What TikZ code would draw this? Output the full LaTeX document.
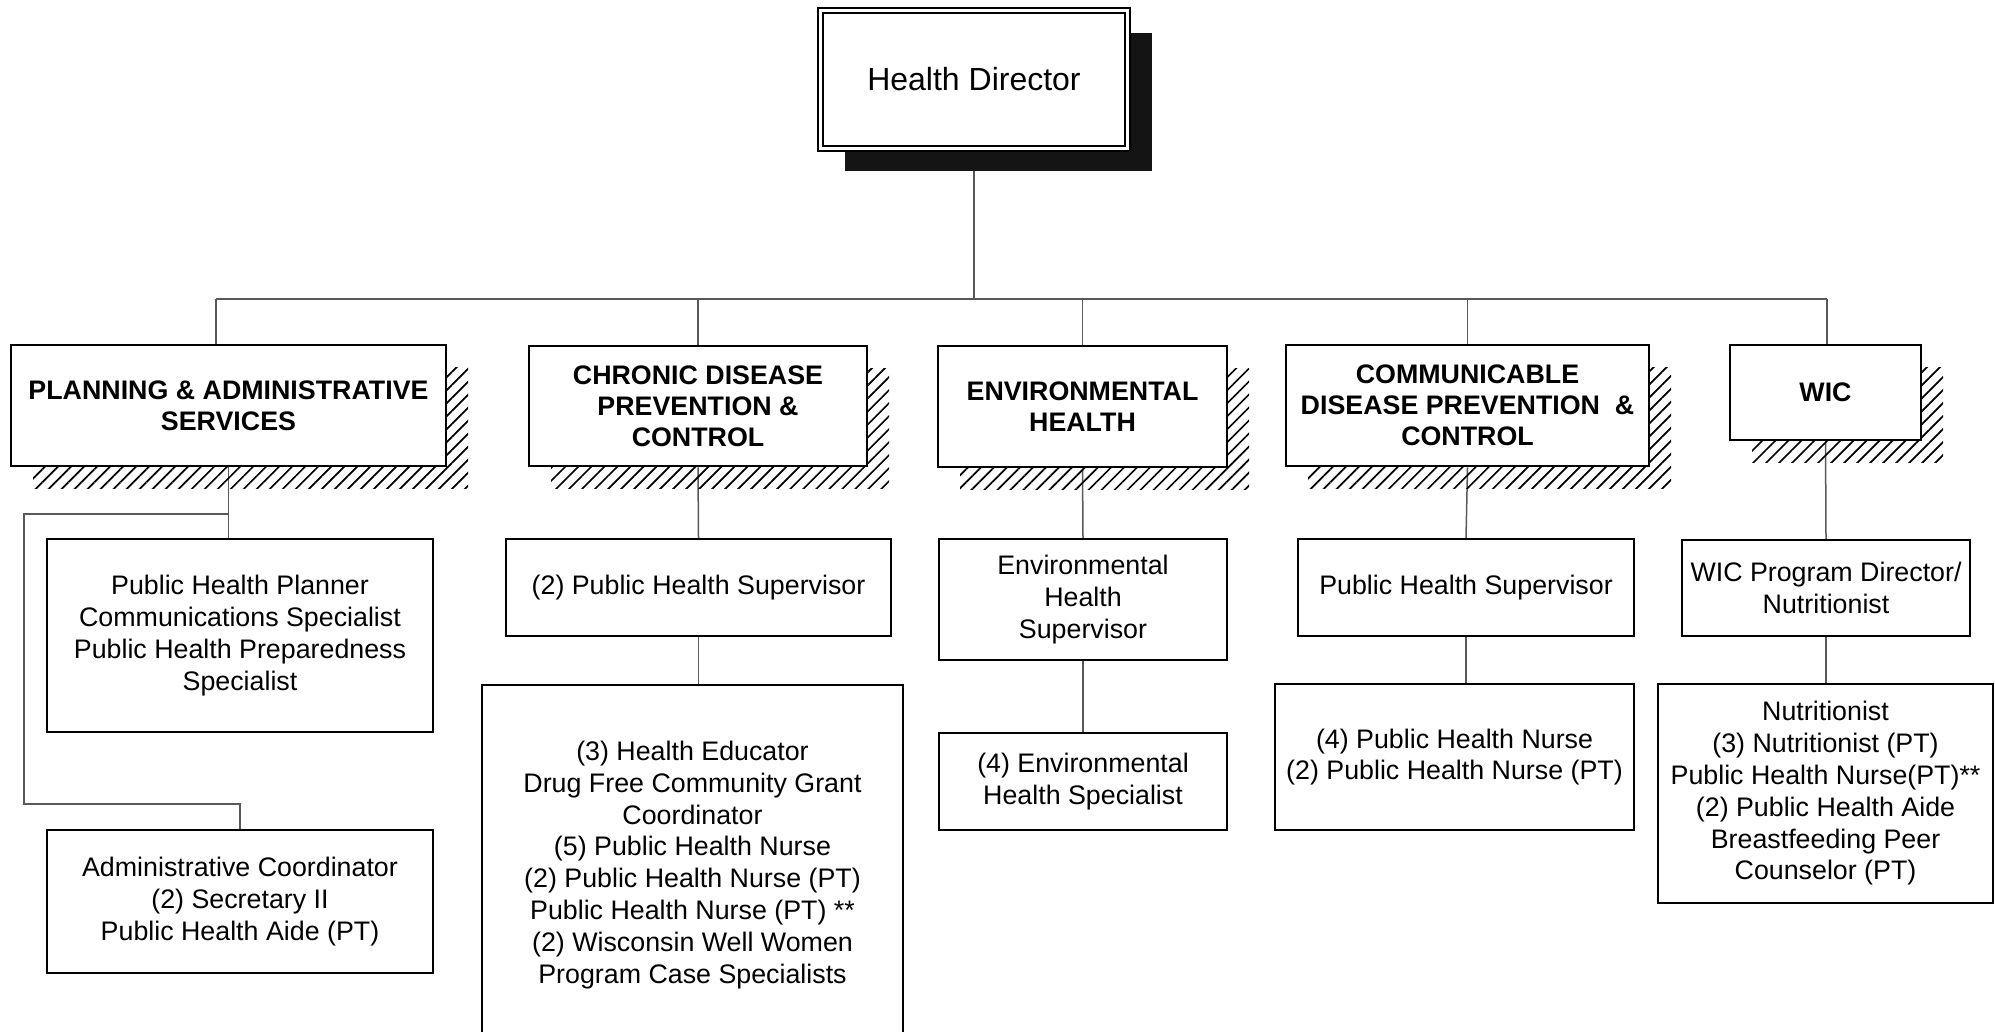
\documentclass[tikz,border=0pt]{standalone}
\usepackage{fontspec}
\setmainfont{Liberation Sans}
\usetikzlibrary{positioning, shadows, backgrounds, patterns.meta}
\tikzset{
    dirbox/.style={draw, double, double distance=1.6pt, line width=0.9pt, fill=white, font=\fontsize{16}{19}\selectfont, inner sep=0pt, drop shadow={shadow xshift=12pt, shadow yshift=-11.5pt, fill=black!92, opacity=1}},
    deptbox/.style={draw, line width=1.4pt, fill=white, align=center, font=\fontsize{13.4}{15.4}\selectfont\bfseries, inner sep=0pt, general shadow={shadow xshift=11pt, shadow yshift=-11pt, pattern={Lines[angle=45, distance=4.6pt, line width=0.85pt]}}},
    staffbox/.style={draw, line width=0.9pt, fill=white, align=center, font=\fontsize{13.4}{15.9}\selectfont, inner sep=0pt}
}
\begin{document}
\begin{tikzpicture}[x=0.5pt, y=-0.5pt,
            link/.style={line width=0.75pt, black!65}
        ]
            \useasboundingbox (0,0) rectangle (1995,1032);
            \clip (0,0) rectangle (1995,1032);

            % Director
            \node[dirbox, minimum width=153.5pt, minimum height=69pt] (dir) at (974,79.5) {Health Director};

            % Divisions
            \node[deptbox, minimum width=217.5pt, minimum height=60.5pt] (plan) at (228.5,405.5) {PLANNING \& ADMINISTRATIVE\\SERVICES};
            \node[deptbox, minimum width=169pt, minimum height=60pt] (chron) at (698,406) {CHRONIC DISEASE\\PREVENTION \&\\CONTROL};
            \node[deptbox, minimum width=144.5pt, minimum height=60.5pt] (env) at (1082.5,406.5) {ENVIRONMENTAL\\HEALTH};
            \node[deptbox, minimum width=181.5pt, minimum height=60.5pt] (comm) at (1467.5,405.5) {COMMUNICABLE\\DISEASE PREVENTION\ \ \&\\CONTROL};
            \node[deptbox, minimum width=95.5pt, minimum height=47.5pt] (wic) at (1825.5,392.5) {WIC};

            % Staff boxes
            \node[staffbox, minimum width=193pt, minimum height=96.5pt] (planner) at (240,635.5) {Public Health Planner\\Communications Specialist\\Public Health Preparedness\\Specialist};
            \node[staffbox, minimum width=193pt, minimum height=71.5pt] (admin) at (240,901.5) {Administrative Coordinator\\(2) Secretary II\\Public Health Aide (PT)};
            \node[staffbox, minimum width=192.5pt, minimum height=48.5pt] (chsup) at (698.5,587.5) {(2) Public Health Supervisor};
            \node[staffbox, minimum width=210.5pt, minimum height=180pt, anchor=north] (chstaff) at (692.5,684) {(3) Health Educator\\Drug Free Community Grant\\Coordinator\\(5) Public Health Nurse\\(2) Public Health Nurse (PT)\\Public Health Nurse (PT) **\\(2) Wisconsin Well Women\\Program Case Specialists};
            \node[staffbox, minimum width=144pt, minimum height=60.5pt] (envsup) at (1083,599.5) {Environmental\\Health\\Supervisor};
            \node[staffbox, minimum width=144pt, minimum height=48.5pt] (envspec) at (1083,781.5) {(4) Environmental\\Health Specialist};
            \node[staffbox, minimum width=168pt, minimum height=48.5pt] (cdsup) at (1466,587.5) {Public Health Supervisor};
            \node[staffbox, minimum width=179.5pt, minimum height=73pt] (cdstaff) at (1454.5,757) {(4) Public Health Nurse\\(2) Public Health Nurse (PT)};
            \node[staffbox, minimum width=144pt, minimum height=48pt] (wicdir) at (1826,588) {WIC Program Director/\\Nutritionist};
            \node[staffbox, minimum width=167.5pt, minimum height=109.5pt] (wicstaff) at (1825.5,793.5) {Nutritionist\\(3) Nutritionist (PT)\\Public Health Nurse(PT)**\\(2) Public Health Aide\\Breastfeeding Peer\\Counselor (PT)};

            % Connectors
            \coordinate (busL) at (216,299);
            \coordinate (busR) at (1827,299);
            \coordinate (pb) at (228,514);
            \coordinate (pc) at (24,804);
            \begin{scope}[on background layer]
                \draw[link] (dir.south) -- (dir.south |- busL);
                \draw[link] (busL) -- (busR);
                \draw[link] (busL) -- (busL |- plan.north);
                \draw[link] (chron.north |- busL) -- (chron.north);
                \draw[link] (env.north |- busL) -- (env.north);
                \draw[link] (comm.north |- busL) -- (comm.north);
                \draw[link] (busR) -- (busR |- wic.north);
                \draw[link] (plan.south) -- (plan.south |- planner.north);
                \draw[link] (pb) -| (pc) -| (admin.north);
                \draw[link] (chron.south) -- (chsup.north);
                \draw[link] (chsup.south) -- (chsup.south |- chstaff.north);
                \draw[link] (env.south) -- (envsup.north);
                \draw[link] (envsup.south) -- (envspec.north);
                \draw[link] (comm.south) -- (cdsup.north);
                \draw[link] (cdsup.south) -- (cdsup.south |- cdstaff.north);
                \draw[link] (wic.south) -- (wicdir.north);
                \draw[link] (wicdir.south) -- (wicdir.south |- wicstaff.north);
            \end{scope}
        \end{tikzpicture}
\end{document}
